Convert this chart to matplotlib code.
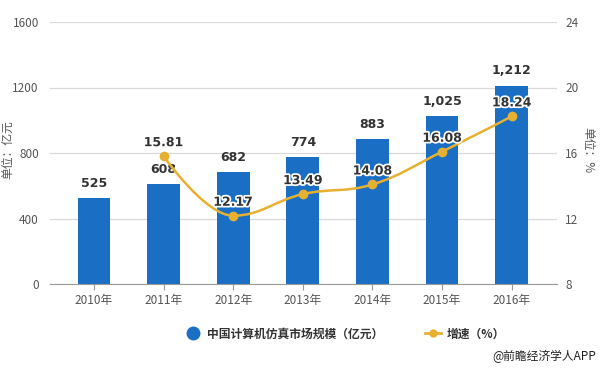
import matplotlib
matplotlib.use("Agg")
import matplotlib.pyplot as plt
from matplotlib.path import Path
from matplotlib.patches import PathPatch
from matplotlib.lines import Line2D
import matplotlib.patheffects as pe

plt.rcParams['font.family'] = ['Noto Sans CJK SC', 'DejaVu Sans']

years = ['2010年', '2011年', '2012年', '2013年', '2014年', '2015年', '2016年']
market = [525, 608, 682, 774, 883, 1025, 1212]
market_labels = ['525', '608', '682', '774', '883', '1,025', '1,212']
growth_years = [1, 2, 3, 4, 5, 6]
growth = [15.81, 12.17, 13.49, 14.08, 16.08, 18.24]

BLUE = '#1a6fc4'
GOLD = '#e6b030'
GRID = '#d9d9d9'
TICK = '#555555'

fig = plt.figure(figsize=(6, 3.68), dpi=100)
ax = fig.add_axes([50/600, 1-284/368, (557-50)/600, (284-22)/368])
ax2 = ax.twinx()

x = list(range(len(years)))
ax.bar(x, market, width=0.47, color=BLUE, zorder=2)
ax.set_xlim(-0.63, 6.65)
ax.set_ylim(0, 1600)
ax.set_yticks([0, 400, 800, 1200, 1600])
ax.set_xticks(x)
ax.set_xticklabels(years)
ax.yaxis.grid(True, color=GRID, linewidth=0.9)
ax.set_axisbelow(True)
for s in ['top', 'right', 'left']:
    ax.spines[s].set_visible(False)
ax.spines['bottom'].set_color('#999999')
ax.tick_params(axis='y', length=0, colors=TICK, labelsize=8.5, pad=8)
ax.tick_params(axis='x', length=4, color='#999999', colors=TICK, labelsize=8.5, pad=3)

for xi, v, lab in zip(x, market, market_labels):
    ax.annotate(lab, (xi, v), xytext=(0, 6), textcoords='offset points',
                ha='center', va='bottom', fontsize=9, color='#333333',
                fontweight='bold', family=['DejaVu Sans'], zorder=5)

# smoothed spline (Highcharts-style) through growth points
def spline_path(xs, ys, smoothing=1.5):
    n = len(xs)
    verts = [(xs[0], ys[0])]
    codes = [Path.MOVETO]
    conts = []
    for i in range(n):
        if i == 0 or i == n - 1:
            conts.append(((xs[i], ys[i]), (xs[i], ys[i])))
            continue
        d = smoothing + 1
        lx = (smoothing * xs[i] + xs[i-1]) / d
        ly = (smoothing * ys[i] + ys[i-1]) / d
        rx = (smoothing * xs[i] + xs[i+1]) / d
        ry = (smoothing * ys[i] + ys[i+1]) / d
        if rx != lx:
            corr = ((ry - ly) * (rx - xs[i])) / (rx - lx) + ys[i] - ry
            ly += corr
            ry += corr
        if ly > max(ys[i-1], ys[i]):
            ly = max(ys[i-1], ys[i]); ry = 2 * ys[i] - ly
        elif ly < min(ys[i-1], ys[i]):
            ly = min(ys[i-1], ys[i]); ry = 2 * ys[i] - ly
        if ry > max(ys[i], ys[i+1]):
            ry = max(ys[i], ys[i+1]); ly = 2 * ys[i] - ry
        elif ry < min(ys[i], ys[i+1]):
            ry = min(ys[i], ys[i+1]); ly = 2 * ys[i] - ry
        conts.append(((lx, ly), (rx, ry)))
    for i in range(1, n):
        verts += [conts[i-1][1], conts[i][0], (xs[i], ys[i])]
        codes += [Path.CURVE4] * 3
    return Path(verts, codes)

ax2.add_patch(PathPatch(spline_path(growth_years, growth), facecolor='none',
                        edgecolor=GOLD, linewidth=1.8, zorder=3))
ax2.plot(growth_years, growth, linestyle='none', marker='o', markersize=6,
         color=GOLD, markeredgecolor=GOLD, zorder=4)
ax2.set_ylim(8, 24)
ax2.set_yticks([8, 12, 16, 20, 24])
for s in ['top', 'right', 'left', 'bottom']:
    ax2.spines[s].set_visible(False)
ax2.tick_params(axis='y', length=0, colors=TICK, labelsize=8.5, pad=6)

for xi, v in zip(growth_years, growth):
    ax2.annotate(f'{v:.2f}', (xi, v), xytext=(0, 5), textcoords='offset points',
                 ha='center', va='bottom', fontsize=9, color='#333333',
                 fontweight='bold', family=['DejaVu Sans'], zorder=6,
                 path_effects=[pe.withStroke(linewidth=2.5, foreground='white')])

fig.text(8/600, 1-150/368, '单位：亿元', rotation=90, ha='center', va='center',
         fontsize=8.5, color=TICK)
fig.text(588/600, 1-150/368, '单位：%', rotation=-90, ha='center', va='center',
         fontsize=8.5, color=TICK)

handles = [Line2D([], [], linestyle='none', marker='o', markersize=9, color=BLUE),
           Line2D([], [], color=GOLD, linewidth=2, marker='o', markersize=5)]
fig.legend(handles, ['中国计算机仿真市场规模（亿元）', '增速（%）'],
           loc='center', bbox_to_anchor=(345/600, 1-334/368), ncol=2,
           frameon=False, prop={'size': 8.5, 'weight': 'bold'},
           handlelength=1.4, columnspacing=3.5, handletextpad=0.5,
           labelcolor='#333333')

fig.text(596/600, 1-356/368, '@前瞻经济学人APP', ha='right', va='center',
         fontsize=8.5, color='#222222')

fig.savefig('out.png', dpi=100)
